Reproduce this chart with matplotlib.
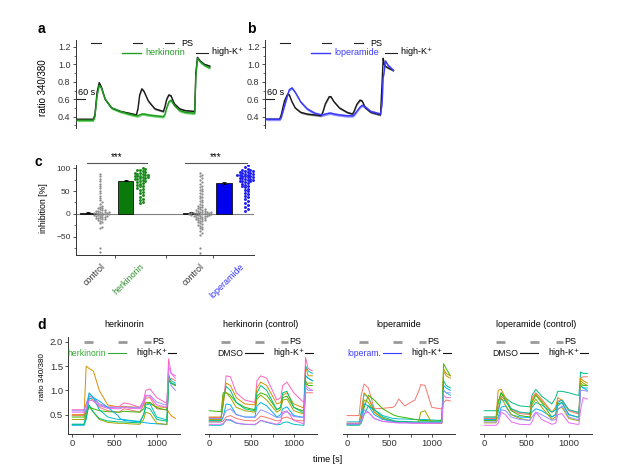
import matplotlib
matplotlib.use("Agg")
import matplotlib.pyplot as plt
from matplotlib.ticker import MultipleLocator
import numpy as np

plt.rcParams["font.family"] = ["Liberation Sans", "DejaVu Sans"]
plt.rcParams["axes.linewidth"] = 0.7
plt.rcParams["axes.edgecolor"] = "#333333"
plt.rcParams["xtick.color"] = "#333333"
plt.rcParams["ytick.color"] = "#333333"

# ---- panel a / b : mean ratio traces (time in s) ----
a_time = [0, 150, 165, 185, 205, 225, 260, 320, 400, 480, 550, 565, 580, 600, 620, 660,
          720, 800, 815, 830, 850, 870, 900, 950, 1000, 1090, 1100, 1115, 1140, 1180, 1230]
a_control = [0.37, 0.37, 0.42, 0.68, 0.79, 0.74, 0.60, 0.50, 0.46, 0.44, 0.42, 0.50, 0.65, 0.72, 0.69, 0.58,
             0.49, 0.46, 0.52, 0.60, 0.65, 0.64, 0.55, 0.49, 0.47, 0.46, 0.90, 1.08, 1.04, 1.00, 0.98]
a_herkinorin = [0.36, 0.36, 0.40, 0.64, 0.76, 0.73, 0.60, 0.50, 0.46, 0.43, 0.41, 0.41, 0.42, 0.43, 0.43, 0.42,
                0.41, 0.40, 0.43, 0.50, 0.57, 0.59, 0.53, 0.47, 0.45, 0.44, 0.85, 1.07, 1.03, 0.99, 0.96]

b_time = [0, 125, 140, 170, 200, 215, 240, 270, 320, 380, 450, 510, 525, 550, 585, 600, 630,
          680, 750, 800, 815, 840, 870, 890, 920, 970, 1060, 1075, 1085, 1095, 1105, 1130, 1180]
b_control = [0.37, 0.37, 0.42, 0.58, 0.66, 0.65, 0.57, 0.50, 0.45, 0.43, 0.42, 0.41, 0.45, 0.55, 0.63, 0.63, 0.57,
             0.50, 0.45, 0.43, 0.46, 0.54, 0.59, 0.58, 0.50, 0.45, 0.42, 0.80, 1.07, 1.00, 0.98, 0.96, 0.93]
b_loperamide = [0.37, 0.37, 0.39, 0.52, 0.65, 0.71, 0.73, 0.68, 0.57, 0.49, 0.44, 0.42, 0.42, 0.43, 0.44, 0.44, 0.43,
                0.42, 0.41, 0.41, 0.42, 0.46, 0.51, 0.53, 0.51, 0.46, 0.43, 0.55, 0.85, 0.92, 1.04, 0.99, 0.93]
sem_control = 0.012
sem_drug = 0.016

ps_windows_ab = [(130, 220), (520, 600), (810, 895)]
highk_window_ab = (1100, 1210)

# ---- panel c : inhibition [%] ----
c_groups = ["control", "herkinorin", "control", "loperamide"]
c_means = [3, 73, 2, 68.5]
c_errors = [2, 2, 1.5, 2]
herk_control_pts = [87, 82, 77, 72, 66, 61, 56, 50, 45, 40, 35, 30, 26, 22, 18, 15, 13, 12, 10, 9, 8, 7, 6,
                    5, 5, 4, 3, 3, 2, 1, 1, 0, 0, -1, -2, -2, -3, -4, -4, -5, -6, -7, -8, -9, -10, -11,
                    -12, -13, -15, -17, -20, -28, -31, -75, -84]
herk_pts = [100, 98, 96, 95, 93, 92, 90, 89, 88, 87, 86, 85, 84, 83, 82, 81, 80, 79, 78, 77, 76, 75, 73,
            72, 70, 68, 66, 64, 62, 60, 57, 55, 52, 48, 45, 42, 38, 33, 30, 27, 23]
lop_control_pts = [90, 86, 82, 78, 74, 70, 66, 62, 58, 55, 52, 49, 46, 43, 40, 37, 34, 31, 28, 25, 22, 20,
                   18, 16, 14, 12, 11, 10, 9, 8, 7, 6, 5, 5, 4, 4, 3, 3, 2, 2, 1, 1, 0, 0, 0, -1, -1, -2,
                   -2, -3, -3, -4, -4, -5, -5, -6, -7, -8, -9, -10, -11, -12, -13, -14, -15, -16, -18,
                   -20, -22, -24, -26, -28, -31, -34, -38, -42, -46, -75, -85]
lop_pts = [107, 102, 98, 96, 95, 94, 93, 92, 91, 90, 89, 88, 87, 86, 86, 85, 84, 83, 82, 81, 80, 79, 78,
           77, 76, 75, 74, 73, 72, 71, 70, 68, 66, 64, 62, 60, 58, 55, 52, 49, 46, 43, 40, 36, 32, 28,
           24, 20, 15, 10, 6]

# ---- panel d : single-cell traces, shared time grid (s) ----
d_time = [0, 140, 165, 200, 250, 320, 420, 540, 565, 610, 680, 800, 845, 870, 920, 1000, 1100, 1120,
          1140, 1170, 1220]
d_herkinorin = {
    "orange":  [0.50, 0.50, 1.50, 1.45, 1.40, 1.00, 0.70, 0.66, 0.66, 0.67, 0.66, 0.65, 0.70, 0.75, 0.72, 0.66, 0.65, 0.63, 0.55, 0.48, 0.42],
    "pink":    [0.60, 0.60, 0.70, 0.88, 0.85, 0.72, 0.66, 0.66, 0.68, 0.74, 0.72, 0.65, 0.80, 1.00, 1.03, 0.85, 0.75, 0.75, 1.65, 1.35, 1.30],
    "purple":  [0.58, 0.58, 0.72, 0.93, 0.85, 0.70, 0.65, 0.64, 0.64, 0.66, 0.65, 0.64, 0.75, 0.88, 0.90, 0.76, 0.70, 0.72, 1.35, 1.10, 1.00],
    "red":     [0.48, 0.48, 0.60, 0.85, 0.80, 0.65, 0.58, 0.55, 0.56, 0.62, 0.60, 0.55, 0.70, 0.84, 0.85, 0.62, 0.60, 0.60, 1.20, 1.25, 1.20],
    "green":   [0.45, 0.45, 0.55, 0.66, 0.62, 0.58, 0.56, 0.55, 0.55, 0.57, 0.56, 0.55, 0.62, 0.74, 0.75, 0.64, 0.60, 0.60, 1.20, 1.15, 1.10],
    "cyan":    [0.30, 0.30, 0.50, 0.95, 0.85, 0.60, 0.45, 0.40, 0.40, 0.40, 0.38, 0.36, 0.50, 0.70, 0.72, 0.45, 0.40, 0.38, 1.30, 1.20, 1.15],
    "blue":    [0.28, 0.28, 0.40, 0.82, 0.85, 0.78, 0.65, 0.48, 0.42, 0.38, 0.37, 0.35, 0.34, 0.33, 0.32, 0.31, 0.30, 0.29, 1.20, 1.15, 1.10],
    "olive":   [0.40, 0.40, 0.50, 0.66, 0.55, 0.40, 0.34, 0.32, 0.32, 0.32, 0.31, 0.30, 0.40, 0.55, 0.52, 0.32, 0.30, 0.30, 1.25, 1.15, 1.10],
    "teal":    [0.30, 0.30, 0.45, 0.70, 0.55, 0.42, 0.37, 0.35, 0.35, 0.35, 0.34, 0.33, 0.50, 0.65, 0.62, 0.40, 0.37, 0.36, 1.20, 1.15, 1.12],
    "magenta": [0.55, 0.55, 0.62, 0.80, 0.78, 0.68, 0.63, 0.62, 0.62, 0.65, 0.63, 0.62, 0.72, 0.90, 0.88, 0.70, 0.66, 0.66, 1.50, 1.35, 1.25],
}
d_herkinorin_ctrl = {
    "pink":    [0.44, 0.44, 0.70, 1.30, 1.28, 0.95, 0.80, 0.75, 1.20, 1.30, 1.25, 0.80, 0.85, 1.10, 1.17, 0.95, 0.78, 0.76, 1.68, 1.45, 1.40],
    "orange":  [0.45, 0.45, 0.70, 1.15, 1.10, 0.85, 0.72, 0.70, 1.05, 1.17, 1.10, 0.72, 0.75, 0.90, 0.95, 0.72, 0.65, 0.65, 1.50, 1.30, 1.30],
    "green":   [0.58, 0.56, 0.95, 0.95, 0.90, 0.75, 0.65, 0.60, 0.88, 0.95, 0.90, 0.60, 0.65, 0.85, 0.88, 0.65, 0.58, 0.58, 1.20, 1.10, 1.10],
    "teal":    [0.38, 0.38, 0.80, 1.08, 1.00, 0.75, 0.62, 0.58, 0.95, 1.10, 1.00, 0.60, 0.65, 0.95, 0.98, 0.65, 0.55, 0.55, 1.30, 1.25, 1.20],
    "olive":   [0.40, 0.40, 0.90, 0.96, 0.85, 0.65, 0.58, 0.55, 0.82, 0.90, 0.80, 0.55, 0.60, 0.80, 0.82, 0.58, 0.52, 0.52, 1.10, 1.15, 1.15],
    "cyan":    [0.28, 0.28, 0.30, 0.40, 0.38, 0.32, 0.30, 0.29, 0.32, 0.38, 0.34, 0.29, 0.30, 0.33, 0.35, 0.30, 0.28, 0.28, 1.50, 1.40, 1.35],
    "blue":    [0.35, 0.35, 0.45, 0.72, 0.70, 0.50, 0.45, 0.45, 0.68, 0.75, 0.68, 0.45, 0.50, 0.62, 0.66, 0.48, 0.45, 0.45, 1.30, 1.25, 1.20],
    "purple":  [0.42, 0.42, 0.45, 0.58, 0.62, 0.50, 0.45, 0.44, 0.50, 0.60, 0.55, 0.44, 0.45, 0.52, 0.56, 0.46, 0.44, 0.44, 1.05, 1.00, 1.00],
    "red":     [0.35, 0.35, 0.37, 0.45, 0.48, 0.42, 0.38, 0.37, 0.40, 0.47, 0.44, 0.37, 0.38, 0.43, 0.45, 0.39, 0.37, 0.37, 0.95, 0.95, 0.95],
    "magenta": [0.30, 0.30, 0.32, 0.38, 0.40, 0.33, 0.30, 0.30, 0.32, 0.38, 0.35, 0.30, 0.35, 0.55, 0.58, 0.38, 0.32, 0.30, 1.10, 1.05, 1.00],
}
d_loperamide = {
    "red":     [0.48, 0.48, 0.90, 1.13, 1.05, 0.62, 0.63, 0.65, 0.68, 0.82, 0.68, 0.80, 0.98, 1.12, 1.10, 0.65, 0.62, 0.62, 0.75, 0.80, 0.78],
    "cyan":    [0.35, 0.35, 0.55, 0.93, 0.85, 0.60, 0.48, 0.42, 0.42, 0.41, 0.41, 0.40, 0.40, 0.40, 0.40, 0.39, 0.38, 0.40, 1.00, 0.95, 0.90],
    "green":   [0.30, 0.30, 0.35, 0.65, 0.90, 0.80, 0.62, 0.50, 0.48, 0.46, 0.44, 0.40, 0.39, 0.38, 0.38, 0.37, 0.37, 0.40, 1.55, 1.45, 1.30],
    "olive":   [0.32, 0.32, 0.38, 0.80, 0.75, 0.55, 0.42, 0.36, 0.35, 0.34, 0.34, 0.33, 0.35, 0.55, 0.58, 0.33, 0.32, 0.32, 1.45, 1.35, 1.30],
    "orange":  [0.32, 0.32, 0.50, 0.95, 0.85, 0.55, 0.42, 0.36, 0.35, 0.35, 0.34, 0.33, 0.33, 0.33, 0.33, 0.33, 0.32, 0.33, 1.40, 1.30, 1.25],
    "blue":    [0.30, 0.30, 0.40, 0.72, 0.68, 0.50, 0.40, 0.36, 0.35, 0.35, 0.34, 0.34, 0.34, 0.34, 0.34, 0.34, 0.34, 0.36, 1.10, 1.05, 1.00],
    "teal":    [0.28, 0.28, 0.32, 0.50, 0.68, 0.60, 0.45, 0.38, 0.37, 0.36, 0.36, 0.35, 0.35, 0.35, 0.35, 0.35, 0.35, 0.36, 1.20, 1.10, 1.05],
    "purple":  [0.30, 0.30, 0.38, 0.60, 0.55, 0.42, 0.36, 0.34, 0.34, 0.33, 0.33, 0.33, 0.33, 0.33, 0.33, 0.33, 0.33, 0.33, 1.00, 0.95, 0.95],
    "magenta": [0.32, 0.32, 0.35, 0.52, 0.55, 0.42, 0.36, 0.34, 0.33, 0.33, 0.33, 0.32, 0.32, 0.32, 0.32, 0.32, 0.32, 0.33, 0.90, 0.85, 0.85],
}
d_loperamide_ctrl = {
    "teal":    [0.58, 0.58, 0.75, 0.95, 0.85, 0.75, 0.68, 0.66, 0.90, 1.02, 0.88, 0.72, 0.85, 0.98, 0.98, 0.95, 0.90, 0.90, 1.38, 1.35, 1.35],
    "red":     [0.42, 0.42, 0.60, 0.88, 0.80, 0.60, 0.52, 0.50, 0.85, 0.95, 0.82, 0.55, 0.60, 0.78, 0.80, 0.58, 0.52, 0.52, 1.25, 1.28, 1.28],
    "orange":  [0.45, 0.45, 1.00, 1.02, 0.85, 0.62, 0.55, 0.52, 0.80, 0.92, 0.78, 0.55, 0.65, 0.85, 0.80, 0.60, 0.55, 0.55, 1.25, 1.20, 1.15],
    "green":   [0.38, 0.38, 0.75, 0.95, 0.80, 0.58, 0.48, 0.45, 0.75, 0.90, 0.75, 0.45, 0.50, 0.72, 0.75, 0.50, 0.45, 0.45, 1.15, 1.10, 1.10],
    "cyan":    [0.45, 0.45, 0.55, 0.82, 0.78, 0.62, 0.55, 0.53, 0.65, 0.75, 0.70, 0.55, 0.60, 0.75, 0.80, 0.60, 0.55, 0.55, 1.10, 1.05, 1.05],
    "blue":    [0.40, 0.40, 0.45, 0.65, 0.68, 0.50, 0.45, 0.44, 0.55, 0.62, 0.58, 0.45, 0.50, 0.68, 0.75, 0.50, 0.45, 0.45, 1.10, 1.05, 1.00],
    "olive":   [0.33, 0.33, 0.80, 0.85, 0.70, 0.50, 0.42, 0.38, 0.70, 0.82, 0.65, 0.40, 0.45, 0.62, 0.65, 0.42, 0.38, 0.38, 1.20, 1.15, 1.10],
    "purple":  [0.35, 0.35, 0.40, 0.60, 0.58, 0.45, 0.40, 0.38, 0.45, 0.55, 0.50, 0.38, 0.40, 0.60, 0.68, 0.45, 0.40, 0.38, 1.00, 1.00, 0.98],
    "magenta": [0.28, 0.28, 0.32, 0.55, 0.50, 0.35, 0.30, 0.29, 0.35, 0.55, 0.40, 0.30, 0.32, 0.50, 0.52, 0.33, 0.30, 0.30, 0.60, 0.85, 0.82],
}
d_titles = ["herkinorin", "herkinorin (control)", "loperamide", "loperamide (control)"]
d_labels = ["herkinorin", "DMSO", "loperam.", "DMSO"]
ps_windows_d = [(140, 245), (545, 645), (845, 930)]
highk_window_d = (1135, 1230)

palette = {
    "red": "#F8766D", "orange": "#D89000", "olive": "#A3A500", "green": "#39B600",
    "teal": "#00BF7D", "cyan": "#00BFC4", "blue": "#00B0F6", "purple": "#9590FF",
    "magenta": "#E76BF3", "pink": "#FF62BC",
}

W, H = 617, 468
fig = plt.figure(figsize=(W / 100, H / 100), dpi=100)


def box(left, top, right, bottom):
    return [left / W, 1 - bottom / H, (right - left) / W, (bottom - top) / H]


def mean_trace(ax, t, y, sem, color, band):
    y = np.asarray(y)
    ax.fill_between(t, y - sem, y + sem, color=band, lw=0, zorder=2)
    ax.plot(t, y, color=color, lw=1.0, zorder=3)


def style_ab(ax):
    ax.set_xlim(-10, 1250)
    ax.set_ylim(0.27, 1.28)
    for s in ("top", "right", "bottom"):
        ax.spines[s].set_visible(False)
    ax.set_xticks([])
    ax.set_yticks([0.4, 0.6, 0.8, 1.0, 1.2])
    ax.yaxis.set_minor_locator(MultipleLocator(0.1))
    ax.tick_params(axis="y", which="major", length=2.5, width=0.6, labelsize=6.5, pad=1.5)
    ax.tick_params(axis="y", which="minor", length=1.3, width=0.5)
    ax.patch.set_visible(False)


def protocol_ab(ax, label, label_color):
    for t0, t1 in ps_windows_ab:
        ax.plot([t0, t1], [1.245, 1.245], color="#222222", lw=0.8, clip_on=False)
    ax.text(965, 1.245, "PS", fontsize=6.5, va="center", ha="left")
    ax.plot([420, 590], [1.135, 1.135], color=label_color, lw=1.0, clip_on=False)
    ax.text(630, 1.135, label, color=label_color, fontsize=6.5, va="center", ha="left")
    ax.plot(highk_window_ab, [1.135, 1.135], color="#222222", lw=0.8, clip_on=False)
    ax.text(1240, 1.135, "high-K$^{+}$", fontsize=6.5, va="center", ha="left", clip_on=False)
    ax.plot([0, 75], [0.6, 0.6], color="#222222", lw=0.8)
    ax.text(12, 0.625, "60 s", fontsize=6.5, va="bottom", ha="left")


# panel a
ax_a = fig.add_axes(box(76, 40, 212, 128))
style_ab(ax_a)
mean_trace(ax_a, a_time, a_control, sem_control, "#1a1a1a", "#8c8c8c")
mean_trace(ax_a, a_time, a_herkinorin, sem_drug, "#1f9a1f", "#6fd46f")
protocol_ab(ax_a, "herkinorin", "#22a022")

# panel b
ax_b = fig.add_axes(box(265, 40, 401, 128))
style_ab(ax_b)
mean_trace(ax_b, b_time, b_control, sem_control, "#1a1a1a", "#8c8c8c")
mean_trace(ax_b, b_time, b_loperamide, sem_drug, "#3a3aff", "#8f8fff")
protocol_ab(ax_b, "loperamide", "#3a3aff")

fig.text(43 / W, 1 - 88 / H, "ratio 340/380", rotation=90, ha="center", va="center", fontsize=7)

# panel c
ax_c = fig.add_axes(box(76, 165, 254, 255))
ax_c.set_xlim(0, 4.56)
ax_c.set_ylim(-90, 107)
for s in ("top", "right"):
    ax_c.spines[s].set_visible(False)
ax_c.patch.set_visible(False)

bar_pos = [0.31, 1.27, 2.95, 3.79]
dot_pos = [0.62, 1.64, 3.18, 4.33]
label_pos = [0.64, 1.64, 3.18, 4.20]
bar_colors = ["#555555", "#0a7a0a", "#555555", "#0000ee"]
dot_colors = ["#8a8a8a", "#1a8a1a", "#8a8a8a", "#1c1cf0"]
dot_sizes = [2.6, 4.5, 2.6, 4.5]
dot_diams = [2.2, 2.7, 2.2, 2.7]
label_colors = ["#333333", "#2e8b2e", "#333333", "#3232ff"]

ax_c.axhline(0, color="#808080", lw=0.8, zorder=1)
ax_c.bar(bar_pos, c_means, width=0.4, color=bar_colors, edgecolor="#111111", lw=0.6,
         yerr=c_errors, capsize=1.5, error_kw=dict(lw=0.6, capthick=0.6), zorder=2)

sx = 178 / 4.56
sy = 90 / 197


def swarm(values, diam):
    vals = np.asarray(values, dtype=float)
    xs = np.zeros(len(vals))
    placed = []
    step = diam * 0.5
    for i in np.argsort(vals):
        py = vals[i] * sy
        k = 0
        while True:
            off = step * ((k + 1) // 2) * (1 if k % 2 else -1)
            if all((off - qx) ** 2 + (py - qy) ** 2 >= diam ** 2 for qx, qy in placed):
                break
            k += 1
        placed.append((off, py))
        xs[i] = off / sx
    return xs


for pts, x0, col, sz, dm in zip([herk_control_pts, herk_pts, lop_control_pts, lop_pts],
                                dot_pos, dot_colors, dot_sizes, dot_diams):
    ax_c.scatter(x0 + swarm(pts, dm), pts, s=sz, color=col, lw=0, zorder=3)

ax_c.set_yticks([-50, 0, 50, 100])
ax_c.yaxis.set_minor_locator(MultipleLocator(25))
ax_c.set_xticks([])
ax_c.set_xticks([1.0, 2.3, 3.5], minor=True)
ax_c.tick_params(axis="y", which="major", length=2.5, width=0.6, labelsize=6, pad=1.5)
ax_c.tick_params(axis="y", which="minor", length=1.3, width=0.5)
ax_c.tick_params(axis="x", which="minor", length=2.5, width=0.6)
for xp, name, col in zip(label_pos, c_groups, label_colors):
    ax_c.text(xp, -0.075, name, color=col, fontsize=6.5, rotation=45, ha="right", va="top",
              rotation_mode="anchor", transform=ax_c.get_xaxis_transform())
for x0, x1 in [(0.27, 1.81), (2.79, 4.38)]:
    ax_c.plot([x0, x1], [112, 112], color="#555555", lw=0.8, clip_on=False)
    ax_c.text((x0 + x1) / 2, 113, "***", fontsize=7, ha="center", va="bottom")
fig.text(43 / W, 1 - 208 / H, "inhibition [%]", rotation=90, ha="center", va="center", fontsize=6.3)

# panel d
d_boxes = [(68, 337, 180, 434), (205, 337, 317, 434), (343, 337, 455, 434), (480, 337, 592, 434)]
d_sets = [d_herkinorin, d_herkinorin_ctrl, d_loperamide, d_loperamide_ctrl]
d_label_colors = ["#33aa33", "#111111", "#3a3aff", "#111111"]
for i, (bx, traces, title, lab, lcol) in enumerate(zip(d_boxes, d_sets, d_titles, d_labels, d_label_colors)):
    ax = fig.add_axes(box(*bx))
    ax.set_xlim(-50, 1275)
    ax.set_ylim(0.1, 2.1)
    ax.patch.set_visible(False)
    for key, vals in traces.items():
        ax.plot(d_time, vals, color=palette[key], lw=0.7)
    for s in ("top", "right"):
        ax.spines[s].set_visible(False)
    ax.set_xticks([0, 500, 1000])
    ax.set_xticks([250, 750], minor=True)
    ax.tick_params(axis="x", which="both", length=2, width=0.6, labelsize=6.8, pad=1.5)
    if i == 0:
        ax.set_yticks([0.5, 1.0, 1.5, 2.0])
        ax.tick_params(axis="y", length=2, width=0.6, labelsize=6.8, pad=1.5)
    else:
        ax.spines["left"].set_visible(False)
        ax.set_yticks([])
    ax.text(0.5, 1.125, title, transform=ax.transAxes, ha="center", va="center", fontsize=6.5)
    for t0, t1 in ps_windows_d:
        ax.plot([t0, t1], [2.0, 2.0], color="#9a9a9a", lw=2.0, solid_capstyle="butt", clip_on=False)
    ax.text(945, 2.0, "PS", fontsize=6.5, va="center", ha="left")
    ax.text(405, 1.76, lab, color=lcol, fontsize=6.2, va="center", ha="right")
    ax.plot([420, 640], [1.76, 1.76], color=lcol, lw=0.8)
    ax.text(1130, 1.76, "high-K$^{+}$", fontsize=6.2, va="center", ha="right")
    ax.plot(highk_window_d, [1.76, 1.76], color="#111111", lw=0.8, clip_on=False)

fig.text(43 / W, 1 - 377 / H, "ratio 340/380", rotation=90, ha="center", va="center", fontsize=5.8)
fig.text(328 / W, 1 - 459 / H, "time [s]", ha="center", va="center", fontsize=6.5)

for lab, x, y in [("a", 41.7, 29), ("b", 251.7, 29), ("c", 38, 161.7), ("d", 41.7, 325)]:
    fig.text(x / W, 1 - y / H, lab, fontsize=10, fontweight="bold", ha="center", va="center")

fig.savefig("out.png", dpi=100)
